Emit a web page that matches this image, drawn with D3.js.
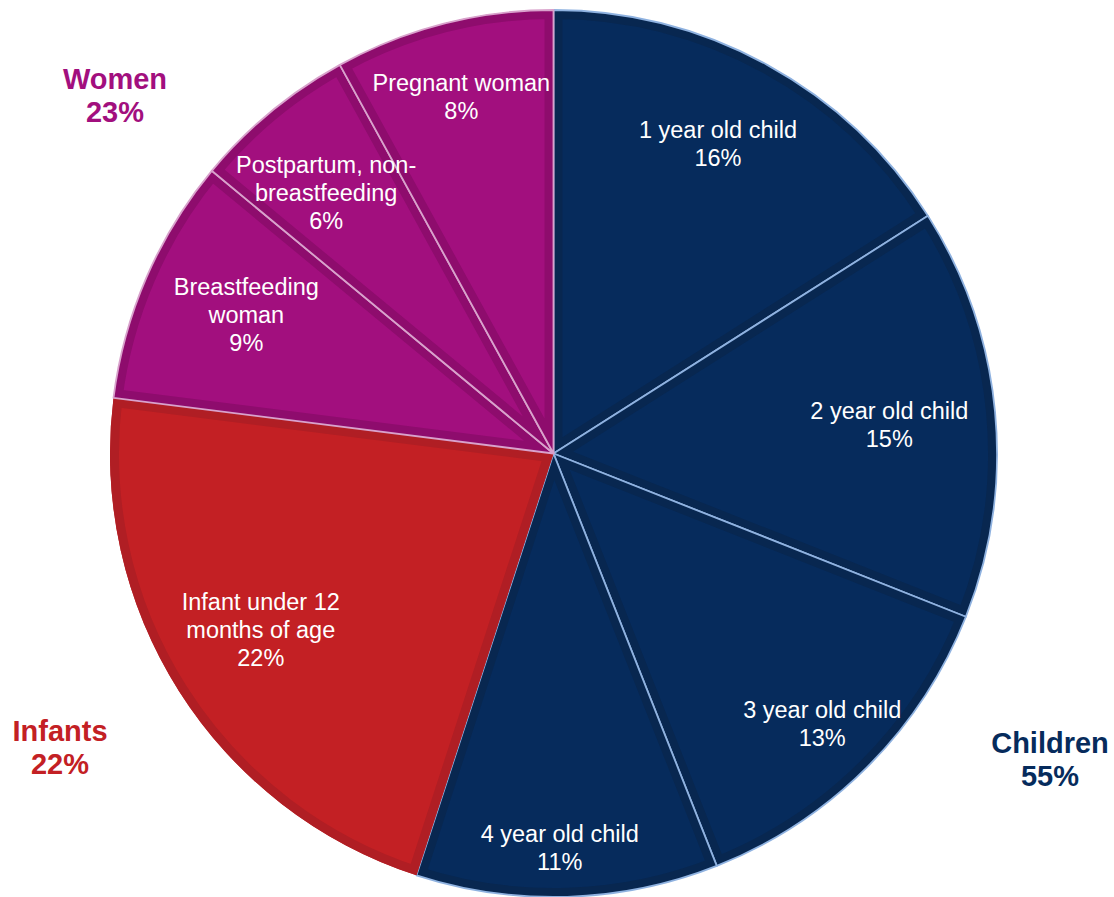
<!DOCTYPE html>
<html>
<head>
<meta charset="utf-8">
<script src="https://cdn.jsdelivr.net/npm/d3@7/dist/d3.min.js"></script>
<style>
  html, body { margin: 0; padding: 0; background: #ffffff; }
  svg { display: block; font-family: Arial, "Liberation Sans", sans-serif; }
</style>
</head>
<body>
<svg id="chart" width="1114" height="897"></svg>
<script>
// Share of participants by category (percent), clockwise from 12 o'clock
const categories = [
  "1 year old child", "2 year old child", "3 year old child", "4 year old child",
  "Infant under 12 months of age", "Breastfeeding woman",
  "Postpartum, non-breastfeeding", "Pregnant woman"
];
const values = [16, 15, 13, 11, 22, 9, 6, 8];
const groupOf = ["Children", "Children", "Children", "Children",
                 "Infants", "Women", "Women", "Women"];
// Wrapped label lines shown inside each slice
const labelLines = [
  ["1 year old child"], ["2 year old child"], ["3 year old child"], ["4 year old child"],
  ["Infant under 12", "months of age"], ["Breastfeeding", "woman"],
  ["Postpartum, non-", "breastfeeding"], ["Pregnant woman"]
];
// Group totals
const groups = ["Women", "Infants", "Children"];
const groupTotals = [23, 22, 55];

// Styling
const fillColor = { Children: "#062b5c", Infants: "#c32024", Women: "#a20f7e" };
const edgeColor = { Children: "#082750", Infants: "#b01e24", Women: "#8e0c6d" };
const lineColor = { Children: "#8fb2e0", Infants: "none", Women: "#d9a2cc" };

// Label placement inside slices: radius fraction and angular nudge (degrees)
const labelRadius = [0.79, 0.76, 0.86, 0.89, 0.77, 0.76, 0.78, 0.83];
const labelNudge  = [-0.8, 0.5, 0.2, 0.9, 1.4, 0.9, -1.5, -0.1];
// Group label anchors
const groupLabelPos = { Women: [115, 79], Infants: [60, 731], Children: [1050, 743] };

const svg = d3.select("#chart");
const cx = 553.5, cy = 453.5, R = 443.5;

const data = categories.map((c, i) => ({ name: c, value: values[i], group: groupOf[i], lines: labelLines[i], i }));

const pie = d3.pie().value(d => d.value).sort(null);
const arc = d3.arc().innerRadius(0).outerRadius(R);
const arcs = pie(data);

const g = svg.append("g").attr("transform", `translate(${cx},${cy})`);
const defs = svg.append("defs");

arcs.forEach((a, i) => {
  defs.append("clipPath").attr("id", "clip" + i)
    .append("path").attr("d", arc(a));
});

const slices = g.append("g").selectAll("g.slice").data(arcs).join("g").attr("class", "slice");

// base fill
slices.append("path")
  .attr("d", arc)
  .attr("fill", d => fillColor[d.data.group]);

// darker inner rim, clipped to the slice
slices.append("path")
  .attr("d", arc)
  .attr("fill", "none")
  .attr("stroke", d => edgeColor[d.data.group])
  .attr("stroke-width", 18)
  .attr("stroke-linejoin", "miter")
  .attr("clip-path", (d, i) => `url(#clip${i})`);

// thin light outline
slices.append("path")
  .attr("d", arc)
  .attr("fill", "none")
  .attr("stroke", d => lineColor[d.data.group])
  .attr("stroke-width", 1.8)
  .attr("stroke-linejoin", "round");

// slice labels, drawn above every slice
const lineH = 28;
const labelLayer = g.append("g");
arcs.forEach((d, i) => {
  const mid = (d.startAngle + d.endAngle) / 2 + labelNudge[i] * Math.PI / 180;
  const r = R * labelRadius[i];
  const x = r * Math.sin(mid), y = -r * Math.cos(mid);
  const lines = d.data.lines.concat([d.data.value + "%"]);
  const t = labelLayer.append("text")
    .attr("text-anchor", "middle")
    .attr("fill", "#ffffff")
    .attr("font-size", 23.5);
  const y0 = y - (lines.length - 1) * lineH / 2;
  lines.forEach((s, k) => {
    t.append("tspan").attr("x", x).attr("y", y0 + k * lineH).attr("dy", "0.35em").text(s);
  });
});

// group totals
groups.forEach((name, i) => {
  const [x, y] = groupLabelPos[name];
  const t = svg.append("text")
    .attr("text-anchor", "middle")
    .attr("font-weight", "bold")
    .attr("font-size", 29)
    .attr("fill", fillColor[name]);
  t.append("tspan").attr("x", x).attr("y", y).attr("dy", "0.35em").text(name);
  t.append("tspan").attr("x", x).attr("y", y + 33).attr("dy", "0.35em").text(groupTotals[i] + "%");
});
</script>
</body>
</html>
